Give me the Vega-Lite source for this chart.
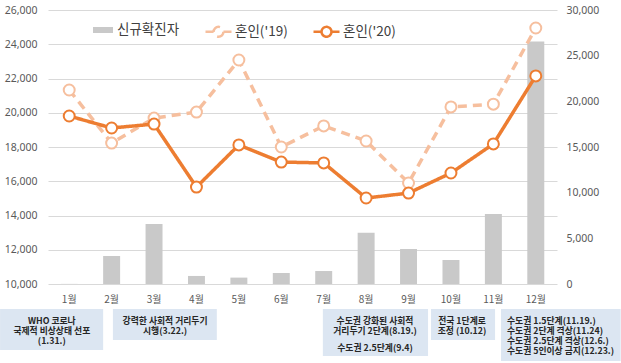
{
  "$schema": "https://vega.github.io/schema/vega-lite/v6.json",
  "background": "white",
  "padding": {"left": 0, "top": 5, "right": 0, "bottom": 0},
  "config": {
    "view": {"stroke": null},
    "font": "Noto Sans",
    "axis": {"labelFont": "Noto Sans", "labelColor": "#595959", "labelFontSize": 10.5, "title": null, "labelOverlap": false},
    "legend": {"labelFont": "Noto Sans CJK KR", "labelFontSize": 13.5, "labelColor": "#404040", "title": null}
  },
  "datasets": {
    "cases": [
      {"month": "1월", "cases": 11},
      {"month": "2월", "cases": 3070},
      {"month": "3월", "cases": 6570},
      {"month": "4월", "cases": 880},
      {"month": "5월", "cases": 700},
      {"month": "6월", "cases": 1200},
      {"month": "7월", "cases": 1420},
      {"month": "8월", "cases": 5600},
      {"month": "9월", "cases": 3830},
      {"month": "10월", "cases": 2630},
      {"month": "11월", "cases": 7660},
      {"month": "12월", "cases": 26550}
    ],
    "marriage": [
      {"month": "1월", "series": "혼인('19)", "value": 21330},
      {"month": "2월", "series": "혼인('19)", "value": 18230},
      {"month": "3월", "series": "혼인('19)", "value": 19690},
      {"month": "4월", "series": "혼인('19)", "value": 20040},
      {"month": "5월", "series": "혼인('19)", "value": 23080},
      {"month": "6월", "series": "혼인('19)", "value": 18000},
      {"month": "7월", "series": "혼인('19)", "value": 19230},
      {"month": "8월", "series": "혼인('19)", "value": 18350},
      {"month": "9월", "series": "혼인('19)", "value": 15900},
      {"month": "10월", "series": "혼인('19)", "value": 20340},
      {"month": "11월", "series": "혼인('19)", "value": 20500},
      {"month": "12월", "series": "혼인('19)", "value": 24950},
      {"month": "1월", "series": "혼인('20)", "value": 19810},
      {"month": "2월", "series": "혼인('20)", "value": 19110},
      {"month": "3월", "series": "혼인('20)", "value": 19340},
      {"month": "4월", "series": "혼인('20)", "value": 15660},
      {"month": "5월", "series": "혼인('20)", "value": 18120},
      {"month": "6월", "series": "혼인('20)", "value": 17120},
      {"month": "7월", "series": "혼인('20)", "value": 17070},
      {"month": "8월", "series": "혼인('20)", "value": 15020},
      {"month": "9월", "series": "혼인('20)", "value": 15310},
      {"month": "10월", "series": "혼인('20)", "value": 16480},
      {"month": "11월", "series": "혼인('20)", "value": 18180},
      {"month": "12월", "series": "혼인('20)", "value": 22150}
    ],
    "boxes": [
      {"box": 1, "x1": -0.63, "x2": 1.8, "y1": -1.2, "y2": 2.9},
      {"box": 2, "x1": 2.03, "x2": 4.48, "y1": -1.2, "y2": 1.9},
      {"box": 3, "x1": 6.98, "x2": 9.46, "y1": -1.2, "y2": 3.5},
      {"box": 4, "x1": 9.53, "x2": 11.04, "y1": -1.2, "y2": 1.9},
      {"box": 5, "x1": 11.18, "x2": 14.0, "y1": -1.2, "y2": 4.0}
    ],
    "notes": [
      {"text": "WHO 코로나", "x": 0.59, "line": 0, "align": "center"},
      {"text": "국제적 비상상태 선포", "x": 0.59, "line": 1, "align": "center"},
      {"text": "(1.31.)", "x": 0.59, "line": 2, "align": "center"},
      {"text": "강력한 사회적 거리두기", "x": 3.26, "line": 0, "align": "center"},
      {"text": "시행(3.22.)", "x": 3.26, "line": 1, "align": "center"},
      {"text": "수도권 강화된 사회적", "x": 8.21, "line": 0, "align": "center"},
      {"text": "거리두기 2단계(8.19.)", "x": 8.21, "line": 1, "align": "center"},
      {"text": "수도권 2.5단계(9.4)", "x": 8.21, "line": 2.7, "align": "center"},
      {"text": "전국 1단계로", "x": 10.26, "line": 0, "align": "center"},
      {"text": "조정 (10.12)", "x": 10.26, "line": 1, "align": "center"},
      {"text": "수도권 1.5단계(11.19.)", "x": 11.32, "line": 0, "align": "left"},
      {"text": "수도권 2단계 격상(11.24)", "x": 11.32, "line": 1, "align": "left"},
      {"text": "수도권 2.5단계 격상(12.6.)", "x": 11.32, "line": 2, "align": "left"},
      {"text": "수도권 5인이상 금지(12.23.)", "x": 11.32, "line": 3, "align": "left"}
    ]
  },
  "resolve": {"scale": {"x": "independent", "y": "independent"}},
  "spacing": 5,
  "vconcat": [
    {
      "width": 509,
      "height": 274,
      "resolve": {"scale": {"y": "independent"}},
      "encoding": {
        "x": {
          "field": "month",
          "type": "nominal",
          "sort": ["1월", "2월", "3월", "4월", "5월", "6월", "7월", "8월", "9월", "10월", "11월", "12월"],
          "scale": {"paddingInner": 0.6, "paddingOuter": 0.3},
          "axis": {"labelAngle": 0, "domain": false, "ticks": false, "labelPadding": 10, "labelFontSize": 10, "labelFont": "Noto Sans CJK KR"}
        }
      },
      "layer": [
        {
          "data": {"name": "cases"},
          "mark": {"type": "bar"},
          "encoding": {
            "y": {
              "field": "cases",
              "type": "quantitative",
              "scale": {"domain": [0, 30000]},
              "axis": {"orient": "right", "values": [0, 5000, 10000, 15000, 20000, 25000, 30000], "format": ",.0f", "grid": false, "domain": false, "ticks": false, "labelPadding": 9}
            },
            "fill": {
              "datum": "신규확진자",
              "scale": {"range": ["#C9C9C9"]},
              "legend": {
                "orient": "none",
                "legendX": 45,
                "legendY": 10,
                "symbolType": "M-1,-0.3H1V0.3H-1Z",
                "symbolSize": 400,
                "symbolStrokeWidth": 0,
                "labelOffset": 4
              }
            }
          }
        },
        {
          "data": {"name": "marriage"},
          "encoding": {
            "y": {
              "field": "value",
              "type": "quantitative",
              "scale": {"domain": [10000, 26000]},
              "axis": {"orient": "left", "values": [10000, 12000, 14000, 16000, 18000, 20000, 22000, 24000, 26000], "format": ",.0f", "grid": true, "gridColor": "#D9D9D9", "domain": false, "ticks": false, "labelPadding": 11, "labelOverlap": false}
            },
            "stroke": {
              "field": "series",
              "type": "nominal",
              "scale": {"domain": ["혼인('19)", "혼인('20)"], "range": ["#F6BF9E", "#ED7D31"]},
              "legend": {
                "orient": "none",
                "direction": "horizontal",
                "legendX": 156,
                "legendY": 7,
                "symbolType": "M-1,0L-0.38,0M0.38,0L1,0M-0.38,0A0.38,0.38,0,1,1,0.38,0A0.38,0.38,0,1,1,-0.38,0",
                "symbolSize": 676,
                "symbolStrokeWidth": 2.5,
                "symbolFillColor": "white",
                "labelOffset": 2,
                "columnPadding": 20
              }
            }
          },
          "layer": [
            {
              "mark": {"type": "line", "strokeWidth": 3.5},
              "encoding": {
                "strokeDash": {
                  "field": "series",
                  "type": "nominal",
                  "scale": {"domain": ["혼인('19)", "혼인('20)"], "range": [[9, 6], [1, 0]]},
                  "legend": {
                    "orient": "none",
                    "direction": "horizontal",
                    "legendX": 156,
                    "legendY": 7,
                    "symbolType": "M-1,0L-0.38,0M0.38,0L1,0M-0.38,0A0.38,0.38,0,1,1,0.38,0A0.38,0.38,0,1,1,-0.38,0",
                    "symbolSize": 676,
                    "symbolStrokeWidth": 2.5,
                    "symbolFillColor": "white",
                    "labelOffset": 2,
                    "columnPadding": 20
                  }
                }
              }
            },
            {
              "mark": {"type": "point", "filled": false, "fill": "white", "size": 120, "strokeWidth": 2, "opacity": 1}
            }
          ]
        }
      ]
    },
    {
      "width": 509,
      "height": 52,
      "layer": [
        {
          "data": {"name": "boxes"},
          "mark": {"type": "rect", "fill": "#DCE6F2"},
          "encoding": {
            "x": {"field": "x1", "type": "quantitative", "scale": {"domain": [0.5, 12.5], "nice": false, "zero": false}, "axis": null},
            "x2": {"field": "x2"},
            "y": {"field": "y1", "type": "quantitative", "scale": {"domain": [-1.2, 4.0], "reverse": true, "nice": false, "zero": false}, "axis": null},
            "y2": {"field": "y2"}
          }
        },
        {
          "data": {"name": "notes"},
          "transform": [{"filter": "datum.align === 'center'"}],
          "mark": {"type": "text", "align": "center", "baseline": "middle", "font": "Noto Sans CJK KR", "fontWeight": "bold", "fontSize": 8.8, "color": "#262626"},
          "encoding": {
            "x": {"field": "x", "type": "quantitative"},
            "y": {"field": "line", "type": "quantitative"},
            "text": {"field": "text"}
          }
        },
        {
          "data": {"name": "notes"},
          "transform": [{"filter": "datum.align === 'left'"}],
          "mark": {"type": "text", "align": "left", "baseline": "middle", "font": "Noto Sans CJK KR", "fontWeight": "bold", "fontSize": 8.8, "color": "#262626"},
          "encoding": {
            "x": {"field": "x", "type": "quantitative"},
            "y": {"field": "line", "type": "quantitative"},
            "text": {"field": "text"}
          }
        }
      ]
    }
  ]
}
